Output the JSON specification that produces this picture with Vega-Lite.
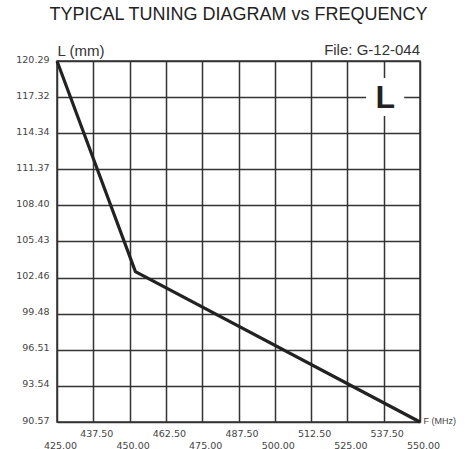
{
  "$schema": "https://vega.github.io/schema/vega-lite/v6.json",
  "autosize": "none",
  "width": 363,
  "height": 361,
  "padding": {"left": 57, "top": 61, "right": 48, "bottom": 27},
  "background": "white",
  "config": {
    "view": {"stroke": "#333", "strokeWidth": 1.5},
    "font": "Liberation Sans"
  },
  "title": {
    "text": "TYPICAL TUNING DIAGRAM vs FREQUENCY",
    "fontSize": 18,
    "fontWeight": "normal",
    "color": "#222",
    "font": "Liberation Sans",
    "anchor": "middle",
    "offset": 19
  },
  "datasets": {
    "curve": [
      {"f": 425, "l": 120.29},
      {"f": 452, "l": 102.95},
      {"f": 550, "l": 90.57}
    ],
    "marker": [
      {"f": 538, "l": 117.32, "t": "L"}
    ],
    "file": [
      {"f": 550, "l": 120.29, "t": "File:  G-12-044"}
    ]
  },
  "encoding": {
    "x": {
      "field": "f", "type": "quantitative",
      "scale": {"domain": [425, 550], "nice": false, "zero": false},
      "axis": {
        "values": [425, 437.5, 450, 462.5, 475, 487.5, 500, 512.5, 525, 537.5, 550],
        "format": ".2f",
        "grid": true, "gridColor": "#333", "gridWidth": 1.5, "gridOpacity": 1,
        "domain": false, "ticks": false,
        "labelFont": "DejaVu Sans", "labelFontSize": 9.5, "labelColor": "#444",
        "labelBaseline": "top", "labelOffset": 3,
        "labelPadding": {"condition": {"test": "datum.value % 25 == 0", "value": 18}, "value": 6},
        "labelFlush": false, "labelOverlap": false,
        "title": "F (MHz)", "titleFontSize": 9, "titleFontWeight": "normal", "titleColor": "#444",
        "titleX": 366, "titleY": -2, "titleAlign": "left", "titleBaseline": "middle"
      }
    },
    "y": {
      "field": "l", "type": "quantitative",
      "scale": {"domain": [90.57, 120.29], "nice": false, "zero": false},
      "axis": {
        "values": [90.57, 93.54, 96.51, 99.48, 102.46, 105.43, 108.40, 111.37, 114.34, 117.32, 120.29],
        "format": ".2f",
        "grid": true, "gridColor": "#333", "gridWidth": 1.5, "gridOpacity": 1,
        "domain": false, "ticks": false,
        "labelFont": "DejaVu Sans", "labelFontSize": 9.5, "labelColor": "#444", "labelPadding": 8,
        "labelOffset": -2,
        "labelFlush": false, "labelOverlap": false,
        "title": "L (mm)", "titleAngle": 0, "titleX": 0, "titleY": -6,
        "titleAlign": "left", "titleBaseline": "alphabetic",
        "titleFontSize": 15, "titleFontWeight": "normal", "titleColor": "#333"
      }
    }
  },
  "layer": [
    {
      "data": {"name": "curve"},
      "mark": {"type": "line", "color": "#222", "strokeWidth": 3.2}
    },
    {
      "data": {"name": "marker"},
      "mark": {"type": "square", "size": 1450, "color": "white", "opacity": 1, "filled": true}
    },
    {
      "data": {"name": "marker"},
      "mark": {"type": "text", "fontSize": 32, "fontWeight": "bold", "color": "#222", "baseline": "middle", "align": "center", "dy": 1},
      "encoding": {"text": {"field": "t"}}
    },
    {
      "data": {"name": "file"},
      "mark": {"type": "text", "fontSize": 15, "color": "#333", "baseline": "alphabetic", "align": "right", "dy": -6, "clip": false},
      "encoding": {"text": {"field": "t"}}
    }
  ]
}
